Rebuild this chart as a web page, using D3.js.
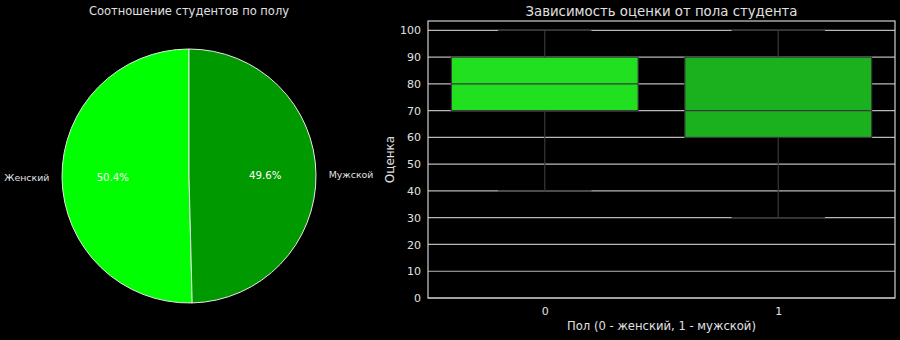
<!DOCTYPE html>
<html><head><meta charset="utf-8">
<script src="https://cdn.jsdelivr.net/npm/d3@7"></script>
<style>body{margin:0;background:#000;} svg{display:block;font-family:"DejaVu Sans",sans-serif;}</style>
</head><body><svg id="c" width="900" height="340"></svg>
<script>
const pieLabels = ["Женский", "Мужской"];
const pieValues = [50.4, 49.6];
const pieColors = ["#00ff00", "#009900"];

const boxCategories = ["0", "1"];
const boxQ1 = [70, 60];
const boxMedian = [80, 70];
const boxQ3 = [90, 90];
const boxWhiskerLow = [40, 30];
const boxWhiskerHigh = [100, 100];
const boxColors = ["#20e020", "#1ab01e"];
const yTicks = [0, 10, 20, 30, 40, 50, 60, 70, 80, 90, 100];

const svg = d3.select("#c");
svg.append("rect").attr("width", 900).attr("height", 340).attr("fill", "#000");
const txt = "#e0e0e0";

// ---- Pie ----
const cx = 189, cy = 176, R = 127;
const total = d3.sum(pieValues);
const femaleAngle = pieValues[0] / total * 2 * Math.PI;
const slices = [
  {label: pieLabels[0], value: pieValues[0], color: pieColors[0], start: -femaleAngle, end: 0},
  {label: pieLabels[1], value: pieValues[1], color: pieColors[1], start: 0, end: 2 * Math.PI - femaleAngle}
];
const arc = d3.arc().innerRadius(0).outerRadius(R);
const gp = svg.append("g").attr("transform", `translate(${cx},${cy})`);
gp.selectAll("path").data(slices).join("path")
  .attr("d", d => arc({startAngle: d.start, endAngle: d.end}))
  .attr("fill", d => d.color).attr("stroke", "#e8e8e8").attr("stroke-width", 1);
slices.forEach(d => {
  const mid = (d.start + d.end) / 2;
  const sx = Math.sin(mid), sy = -Math.cos(mid);
  gp.append("text").attr("x", sx * R * 0.6).attr("y", sy * R * 0.6).attr("dy", "0.35em")
    .attr("text-anchor", "middle").attr("fill", "#fff").attr("font-size", 10.2)
    .text(d.value.toFixed(1) + "%");
  gp.append("text").attr("x", sx * R * 1.1).attr("y", sy * R * 1.1).attr("dy", "0.35em")
    .attr("text-anchor", sx < 0 ? "end" : "start").attr("fill", txt).attr("font-size", 9.4)
    .text(d.label);
});
svg.append("text").attr("x", cx).attr("y", 15).attr("text-anchor", "middle")
  .attr("fill", txt).attr("font-size", 11.5).text("Соотношение студентов по полу");

// ---- Box plot ----
const L = 428, Rr = 895, T = 21, B = 298;
const x = d3.scaleLinear().domain([-0.5, 1.5]).range([L, Rr]);
const y = d3.scaleLinear().domain([0, 103.5]).range([B, T]);
const g = svg.append("g");
g.selectAll(".grid").data(yTicks).join("line")
  .attr("x1", L).attr("x2", Rr).attr("y1", d => y(d)).attr("y2", d => y(d))
  .attr("stroke", "#b8b8b8").attr("stroke-width", 1.2);
const bw = 0.8, cw = 0.4;
boxCategories.forEach((c, i) => {
  const ec = "#383838";
  const sw = 1.2;
  g.append("line").attr("x1", x(i)).attr("x2", x(i)).attr("y1", y(boxQ3[i])).attr("y2", y(boxWhiskerHigh[i])).attr("stroke", ec).attr("stroke-width", sw);
  g.append("line").attr("x1", x(i)).attr("x2", x(i)).attr("y1", y(boxQ1[i])).attr("y2", y(boxWhiskerLow[i])).attr("stroke", ec).attr("stroke-width", sw);
  g.append("line").attr("x1", x(i - cw / 2)).attr("x2", x(i + cw / 2)).attr("y1", y(boxWhiskerHigh[i])).attr("y2", y(boxWhiskerHigh[i])).attr("stroke", ec).attr("stroke-width", sw);
  g.append("line").attr("x1", x(i - cw / 2)).attr("x2", x(i + cw / 2)).attr("y1", y(boxWhiskerLow[i])).attr("y2", y(boxWhiskerLow[i])).attr("stroke", ec).attr("stroke-width", sw);
  g.append("rect").attr("x", x(i - bw / 2)).attr("width", x(i + bw / 2) - x(i - bw / 2))
    .attr("y", y(boxQ3[i])).attr("height", y(boxQ1[i]) - y(boxQ3[i]))
    .attr("fill", boxColors[i]).attr("stroke", ec).attr("stroke-width", sw);
  g.append("line").attr("x1", x(i - bw / 2)).attr("x2", x(i + bw / 2)).attr("y1", y(boxMedian[i])).attr("y2", y(boxMedian[i])).attr("stroke", ec).attr("stroke-width", sw);
});
g.append("rect").attr("x", L).attr("y", T).attr("width", Rr - L).attr("height", B - T)
  .attr("fill", "none").attr("stroke", "#cfcfcf").attr("stroke-width", 1.2);
const ya = svg.append("g").attr("transform", `translate(${L},0)`)
  .call(d3.axisLeft(y).tickValues(yTicks).tickSize(0).tickPadding(7));
ya.select(".domain").remove();
ya.selectAll("text").attr("fill", txt).attr("font-size", 11).attr("font-family", "DejaVu Sans");
const xa = svg.append("g").attr("transform", `translate(0,${B})`)
  .call(d3.axisBottom(x).tickValues([0, 1]).tickFormat((d) => boxCategories[d]).tickSize(0).tickPadding(9));
xa.select(".domain").remove();
xa.selectAll("text").attr("fill", txt).attr("font-size", 11).attr("font-family", "DejaVu Sans");
svg.append("text").attr("x", (L + Rr) / 2).attr("y", 330).attr("text-anchor", "middle")
  .attr("fill", txt).attr("font-size", 11.6).text("Пол (0 - женский, 1 - мужской)");
svg.append("text").attr("transform", `translate(394,${(T + B) / 2}) rotate(-90)`).attr("text-anchor", "middle")
  .attr("fill", txt).attr("font-size", 12).text("Оценка");
svg.append("text").attr("x", (L + Rr) / 2).attr("y", 16).attr("text-anchor", "middle")
  .attr("fill", txt).attr("font-size", 13.3).text("Зависимость оценки от пола студента");
</script></body></html>
